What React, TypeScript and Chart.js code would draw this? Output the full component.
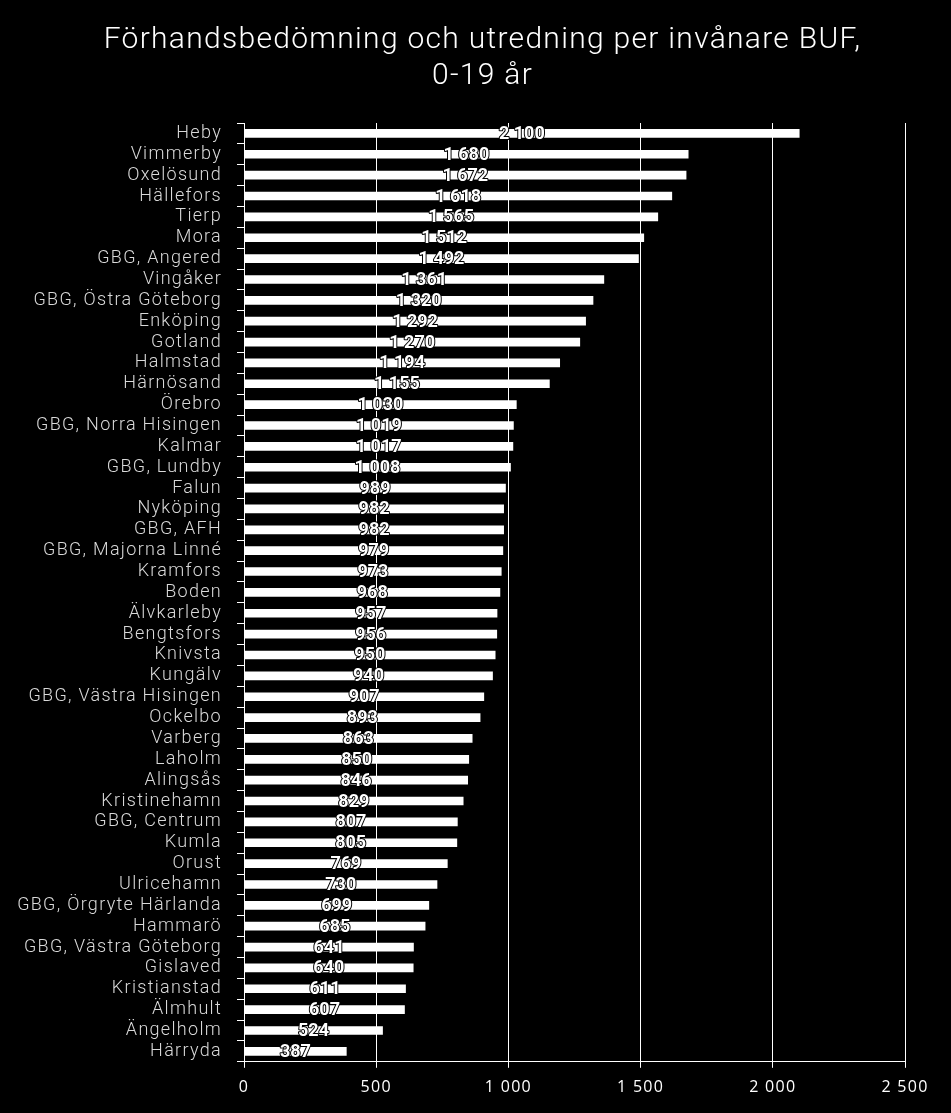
import React, { useEffect, useRef } from "react";
import { Chart, registerables } from "chart.js";

Chart.register(...registerables);

const titleLines = ["Förhandsbedömning och utredning per invånare BUF,", "0-19 år"];

const categories = [
  "Heby", "Vimmerby", "Oxelösund", "Hällefors", "Tierp", "Mora", "GBG, Angered",
  "Vingåker", "GBG, Östra Göteborg", "Enköping", "Gotland", "Halmstad", "Härnösand",
  "Örebro", "GBG, Norra Hisingen", "Kalmar", "GBG, Lundby", "Falun", "Nyköping",
  "GBG, AFH", "GBG, Majorna Linné", "Kramfors", "Boden", "Älvkarleby", "Bengtsfors",
  "Knivsta", "Kungälv", "GBG, Västra Hisingen", "Ockelbo", "Varberg", "Laholm",
  "Alingsås", "Kristinehamn", "GBG, Centrum", "Kumla", "Orust", "Ulricehamn",
  "GBG, Örgryte Härlanda", "Hammarö", "GBG, Västra Göteborg", "Gislaved",
  "Kristianstad", "Älmhult", "Ängelholm", "Härryda",
];

const values = [
  2100, 1680, 1672, 1618, 1565, 1512, 1492,
  1361, 1320, 1292, 1270, 1194, 1155,
  1030, 1019, 1017, 1008, 989, 982,
  982, 979, 973, 968, 957, 956,
  950, 940, 907, 893, 863, 850,
  846, 829, 807, 805, 769, 730,
  699, 685, 641, 640,
  611, 607, 524, 387,
];

const xMin = 0;
const xMax = 2500;
const xStep = 500;

const fmt = (v: number) =>
  String(Math.round(v)).replace(/\B(?=(\d{3})+(?!\d))/g, " ");

const spacing = {
  id: "spacing",
  beforeUpdate(chart: any) {
    chart.ctx.letterSpacing = "1.3px";
  },
  beforeDraw(chart: any) {
    chart.ctx.letterSpacing = "1.3px";
  },
};

const headerTitle = {
  id: "headerTitle",
  afterDraw(chart: any) {
    const ctx = chart.ctx;
    ctx.save();
    ctx.letterSpacing = "1.3px";
    ctx.font = "300 30px Roboto, 'DejaVu Sans', sans-serif";
    ctx.fillStyle = "#ffffff";
    ctx.textAlign = "center";
    ctx.textBaseline = "middle";
    const cx = chart.width / 2 + 7;
    titleLines.forEach((line, i) => {
      ctx.fillText(line, cx, 40 + i * 36);
    });
    ctx.restore();
  },
};

const valueLabels = {
  id: "valueLabels",
  afterDatasetsDraw(chart: any) {
    const ctx = chart.ctx;
    const meta = chart.getDatasetMeta(0);
    ctx.save();
    ctx.letterSpacing = "0px";
    ctx.font = "bold 18px Roboto, 'DejaVu Sans', sans-serif";
    ctx.textAlign = "center";
    ctx.textBaseline = "middle";
    ctx.lineWidth = 2;
    ctx.lineJoin = "round";
    ctx.strokeStyle = "#000";
    ctx.fillStyle = "#fff";
    meta.data.forEach((bar: any, i: number) => {
      const p = bar.getProps(["x", "y", "base"], true);
      const cx = (p.x + p.base) / 2;
      const t = fmt(values[i]);
      ctx.strokeText(t, cx, p.y + 1);
      ctx.fillText(t, cx, p.y + 1);
    });
    ctx.restore();
  },
};

export default function App() {
  const ref = useRef<HTMLCanvasElement | null>(null);

  useEffect(() => {
    document.body.style.margin = "0";
    document.body.style.background = "#000";
    const canvas = ref.current;
    if (!canvas) return;
    const chart = new Chart(canvas, {
      type: "bar",
      data: {
        labels: categories,
        datasets: [
          {
            data: values,
            backgroundColor: "#ffffff",
            borderWidth: 0,
            barThickness: 8,
          },
        ],
      },
      plugins: [spacing, valueLabels, headerTitle],
      options: {
        indexAxis: "y",
        responsive: true,
        maintainAspectRatio: false,
        animation: false,
        layout: { padding: { left: 0, right: 46, top: 123, bottom: 6 } },
        plugins: {
          legend: { display: false },
          tooltip: { enabled: false },
          title: { display: false },
        },
        scales: {
          x: {
            min: xMin,
            max: xMax,
            ticks: {
              stepSize: xStep,
              color: "#ffffff",
              padding: 10,
              font: { family: "'Open Sans', sans-serif", size: 16 },
              callback: (v: any) => fmt(Number(v)),
            },
            grid: {
              color: "#ffffff",
              lineWidth: 1,
              tickLength: 6,
              drawOnChartArea: true,
            },
            border: { color: "#ffffff", width: 1 },
          },
          y: {
            afterFit: (s: any) => {
              s.width = 244;
            },
            ticks: {
              color: "#d9d9d9",
              padding: 15,
              autoSkip: false,
              font: { family: "Roboto, 'DejaVu Sans', sans-serif", size: 18, weight: "300" },
            },
            grid: {
              color: "#ffffff",
              lineWidth: 1,
              tickLength: 7,
              drawOnChartArea: false,
              offset: true,
            },
            border: { color: "#ffffff", width: 1 },
          },
        },
      },
    });
    return () => chart.destroy();
  }, []);

  return (
    <div style={{ width: 951, height: 1113, background: "#000", position: "relative" }}>
      <canvas ref={ref} />
    </div>
  );
}
